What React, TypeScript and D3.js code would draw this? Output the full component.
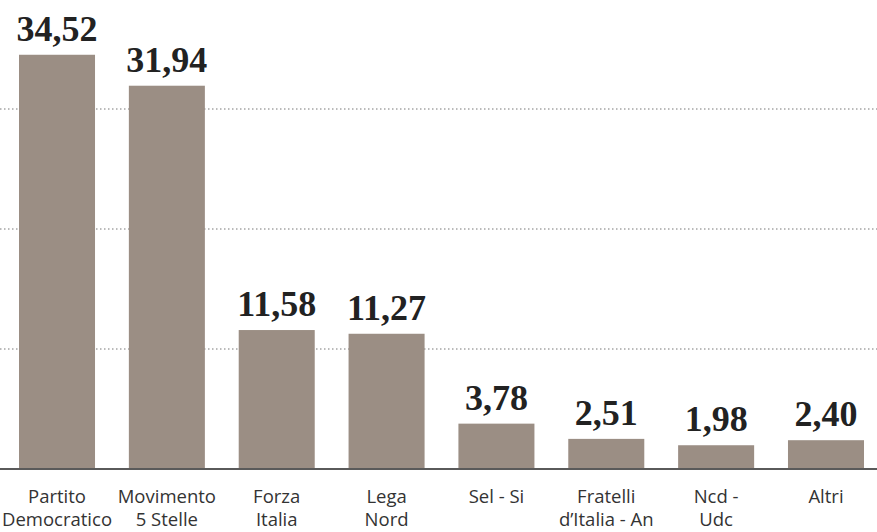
import React from "react";
import * as d3 from "d3";

const categories = [
  ["Partito", "Democratico"],
  ["Movimento", "5 Stelle"],
  ["Forza", "Italia"],
  ["Lega", "Nord"],
  ["Sel - Si"],
  ["Fratelli", "d\u2019Italia - An"],
  ["Ncd -", "Udc"],
  ["Altri"],
];
const values = [34.52, 31.94, 11.58, 11.27, 3.78, 2.51, 1.98, 2.4];
const valueLabels = ["34,52", "31,94", "11,58", "11,27", "3,78", "2,51", "1,98", "2,40"];
const gridValues = [10, 20, 30];

const W = 877;
const H = 532;

export default function App() {
  const baseline = 469;
  const y = d3.scaleLinear().domain([0, 10]).range([baseline, baseline - 120]);
  const x = d3
    .scaleBand<number>()
    .domain(d3.range(values.length))
    .range([19, 864])
    .paddingInner(0.308)
    .paddingOuter(0);
  return (
    <svg
      width={W}
      height={H}
      style={{ position: "absolute", left: 0, top: 0, background: "#fff" }}
    >
      {gridValues.map((g) => (
        <line
          key={g}
          x1={0}
          x2={W}
          y1={y(g)}
          y2={y(g)}
          stroke="#777"
          strokeWidth={1}
          strokeDasharray="1.5,2.5"
        />
      ))}
      {values.map((v, i) => (
        <rect
          key={i}
          x={x(i)}
          y={y(v)}
          width={x.bandwidth()}
          height={baseline - y(v)}
          fill="#9b8e84"
        />
      ))}
      <line x1={0} x2={W} y1={baseline} y2={baseline} stroke="#5a5a5a" strokeWidth={2} />
      {values.map((v, i) => (
        <text
          key={i}
          x={(x(i) as number) + x.bandwidth() / 2}
          y={y(v) - 14}
          textAnchor="middle"
          fontFamily="'Liberation Serif', serif"
          fontWeight="bold"
          fontSize={36}
          fill="#222"
        >
          {valueLabels[i]}
        </text>
      ))}
      {categories.map((lines, i) => (
        <text
          key={i}
          x={(x(i) as number) + x.bandwidth() / 2}
          y={503}
          textAnchor="middle"
          fontFamily="'Open Sans', sans-serif"
          fontSize={18.5}
          fill="#333"
        >
          {lines.map((l, j) => (
            <tspan key={j} x={(x(i) as number) + x.bandwidth() / 2} dy={j === 0 ? 0 : 23}>
              {l}
            </tspan>
          ))}
        </text>
      ))}
    </svg>
  );
}
